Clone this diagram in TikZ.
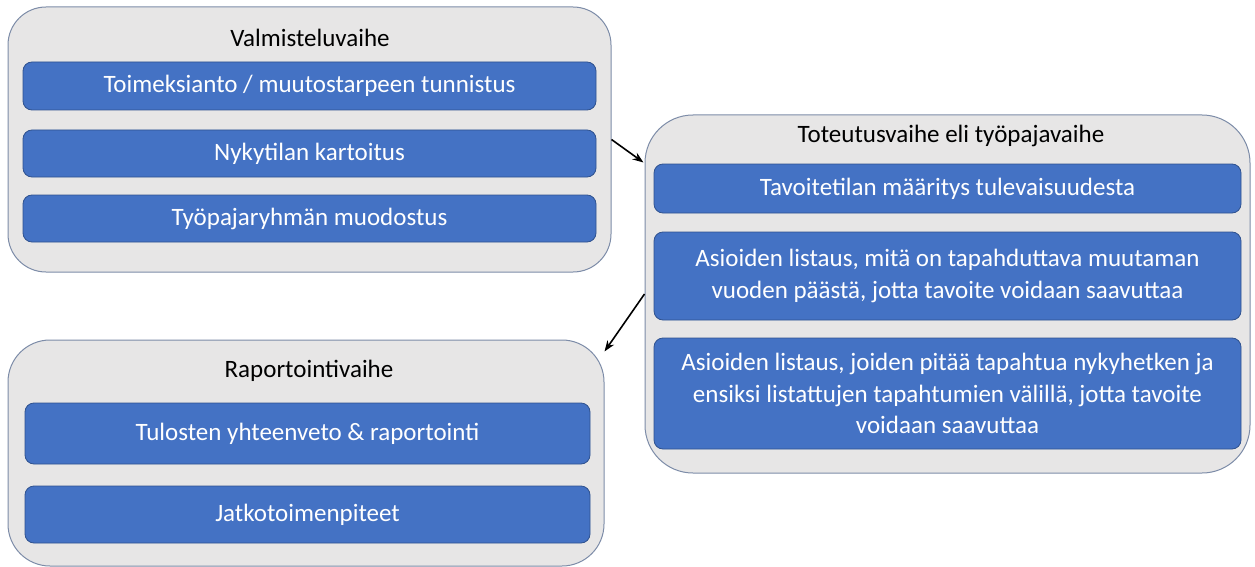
\documentclass[tikz,border=0pt]{standalone}
\usepackage{fontspec}
\setmainfont{Carlito}
\usetikzlibrary{arrows.meta,calc}
\definecolor{boxblue}{HTML}{4472C4}
\definecolor{boxedge}{HTML}{2F528F}
\definecolor{contfill}{HTML}{E7E6E6}
\definecolor{contedge}{HTML}{7D8CA8}
\tikzset{
  phase/.style={draw=contedge, line width=1pt, fill=contfill, inner sep=0pt},
  task/.style={draw=boxedge, line width=0.8pt, fill=boxblue, rounded corners=9pt, text=white,
    font=\fontsize{25}{31.5}\selectfont, align=center, inner sep=0pt},
  ptitle/.style={font=\fontsize{25}{30}\selectfont, text=black, inner sep=0pt},
  flow/.style={-{Stealth[length=11pt,width=8pt]}, line width=1.6pt, black}
}
\newcommand{\boxat}[7]{% name, x1, y1, x2, y2, style, text
  \node[#6, minimum width={#4-#2}, minimum height={#5-#3}] (#1) at ({(#2+#4)/2},{(#3+#5)/2}) {#7};}
\begin{document}
\begin{tikzpicture}[x=1pt,y=-1pt]
\useasboundingbox (0,0) rectangle (1255,567);
% containers
\boxat{val}{8}{7}{611}{272}{phase,rounded corners=38pt}{}
\boxat{tot}{645}{115}{1250}{473}{phase,rounded corners=48pt}{}
\boxat{rap}{8}{340}{604}{566}{phase,rounded corners=42pt}{}
% titles
\node[ptitle] (valt) at (310,38) {Valmisteluvaihe};
\node[ptitle] (tott) at (951,136) {Toteutusvaihe eli työpajavaihe};
\node[ptitle] (rapt) at (309,371) {Raportointivaihe};
% tasks
\boxat{v1}{23}{62}{596}{110}{task}{Toimeksianto / muutostarpeen tunnistus}
\boxat{v2}{23}{130}{596}{177}{task}{Nykytilan kartoitus}
\boxat{v3}{23}{195}{596}{242}{task}{Työpajaryhmän muodostus}
\boxat{t1}{654}{164}{1241}{213}{task}{Tavoitetilan määritys tulevaisuudesta}
\boxat{t2}{654}{232}{1241}{320}{task}{Asioiden listaus, mitä on tapahduttava muutaman\\vuoden päästä, jotta tavoite voidaan saavuttaa}
\boxat{t3}{654}{338}{1241}{449}{task}{Asioiden listaus, joiden pitää tapahtua nykyhetken ja\\ensiksi listattujen tapahtumien välillä, jotta tavoite\\voidaan saavuttaa}
\boxat{r1}{25}{403}{590}{464}{task}{Tulosten yhteenveto \& raportointi}
\boxat{r2}{25}{486}{590}{543}{task}{Jatkotoimenpiteet}
% arrows
\coordinate (totin) at ($(tot.north west)+(-1,48)$);
\coordinate (rapin) at ($(rap.north east)+(0,12)$);
\draw[flow] (val.east) -- (totin);
\draw[flow] (tot.west) -- (rapin);
\end{tikzpicture}
\end{document}
